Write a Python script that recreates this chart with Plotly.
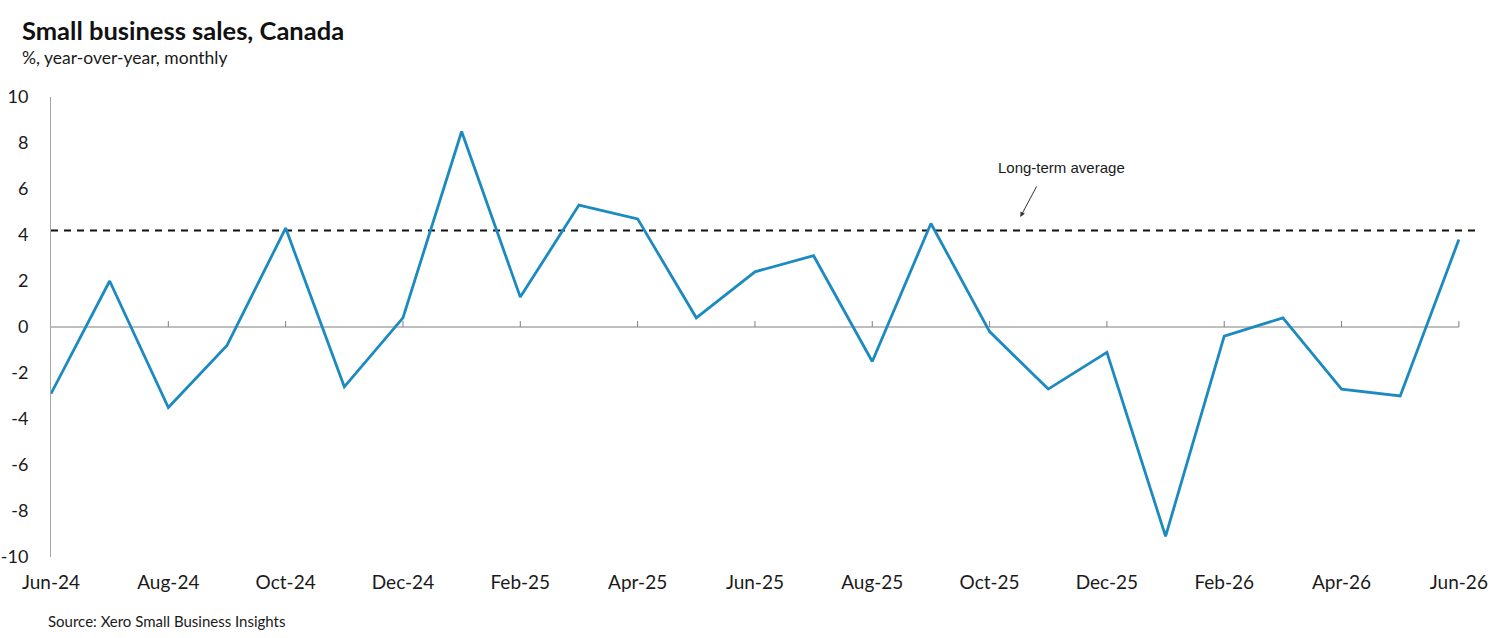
import plotly.graph_objects as go

months = ["Jun-24","Jul-24","Aug-24","Sep-24","Oct-24","Nov-24","Dec-24",
          "Jan-25","Feb-25","Mar-25","Apr-25","May-25","Jun-25","Jul-25",
          "Aug-25","Sep-25","Oct-25","Nov-25","Dec-25","Jan-26","Feb-26",
          "Mar-26","Apr-26","May-26","Jun-26"]
sales_yoy = [-2.9, 2.0, -3.5, -0.8, 4.3, -2.6, 0.4, 8.5, 1.3, 5.3, 4.7, 0.4,
             2.4, 3.1, -1.5, 4.5, -0.2, -2.7, -1.1, -9.1, -0.4, 0.4, -2.7,
             -3.0, 3.8]
long_term_avg = 4.2
y_ticks = [-10, -8, -6, -4, -2, 0, 2, 4, 6, 8, 10]
y_tick_text = ["-10", "-8", "-6", "-4", "-2", "0", "2", "4", "6", "8", "10"]

x_idx = list(range(len(months)))
label_idx = x_idx[::2]
label_txt = [months[i] for i in label_idx]
x_end = len(months) - 1 + 0.36

FONT = "Lato"
PW = 1429.0
PH = 460.0

fig = go.Figure()
fig.add_trace(go.Scatter(
    x=[0, x_end], y=[long_term_avg, long_term_avg], mode="lines",
    line=dict(color="#111111", width=2, dash="7px,6px"),
    hoverinfo="skip", showlegend=False))
fig.add_trace(go.Scatter(
    x=x_idx, y=sales_yoy, mode="lines",
    line=dict(color="#1B8AC0", width=2.8),
    showlegend=False))

shapes = [dict(type="line", xref="x", yref="y", x0=0, x1=len(months) - 1,
               y0=0, y1=0, line=dict(color="#7f7f7f", width=1), layer="below")]
for i in label_idx[1:]:
    shapes.append(dict(type="line", xref="x", yref="y", x0=i, x1=i,
                       y0=0, y1=0.26, line=dict(color="#7f7f7f", width=1),
                       layer="below"))

fig.update_layout(
    width=1500, height=638,
    margin=dict(l=51, r=20, t=97, b=81),
    paper_bgcolor="white", plot_bgcolor="white",
    font=dict(family=FONT, color="#1a1a1a"),
    shapes=shapes,
    xaxis=dict(range=[0, x_end], tickvals=label_idx, ticktext=label_txt,
               showgrid=False, zeroline=False, showline=False, ticks="",
               automargin=False,
               tickfont=dict(size=19, family=FONT, color="#1a1a1a"),
               ticklabelstandoff=12),
    yaxis=dict(range=[-10, 10], tickvals=y_ticks, ticktext=y_tick_text,
               showgrid=False,
               zeroline=False, showline=True, linecolor="#a6a6a6",
               linewidth=1, ticks="", ticklabelstandoff=18, automargin=False,
               tickfont=dict(size=18, family=FONT, color="#1a1a1a")),
    annotations=[
        dict(text="<b>Small business sales, Canada</b>", xref="paper",
             yref="paper", x=(20-51)/PW, y=1 + (97-30)/PH, showarrow=False,
             xanchor="left", yanchor="middle",
             font=dict(size=25.5, family=FONT, color="#111111")),
        dict(text="%, year-over-year, monthly", xref="paper", yref="paper",
             x=(20-51)/PW, y=1 + (97-57)/PH, showarrow=False,
             xanchor="left", yanchor="middle",
             font=dict(size=17.5, family=FONT, color="#1a1a1a")),
        dict(text="Source: Xero Small Business Insights", xref="paper",
             yref="paper", x=(46-51)/PW, y=-(621-557)/PH, showarrow=False,
             xanchor="left", yanchor="middle",
             font=dict(size=15, family=FONT, color="#1a1a1a")),
        dict(text="Long-term average", xref="x", yref="y",
             x=(1060-51)/58.58, y=(327-167)/23, showarrow=False,
             xanchor="center", yanchor="middle",
             font=dict(size=15, family="Liberation Sans", color="#1a1a1a")),
        dict(text="", xref="x", yref="y",
             x=(1019-51)/58.58, y=(327-217)/23,
             ax=(1036-51)/58.58, ay=(327-185)/23, axref="x", ayref="y",
             showarrow=True, arrowhead=2, arrowsize=1, arrowwidth=1,
             arrowcolor="#333333"),
    ],
)

fig.write_html("out.html")
